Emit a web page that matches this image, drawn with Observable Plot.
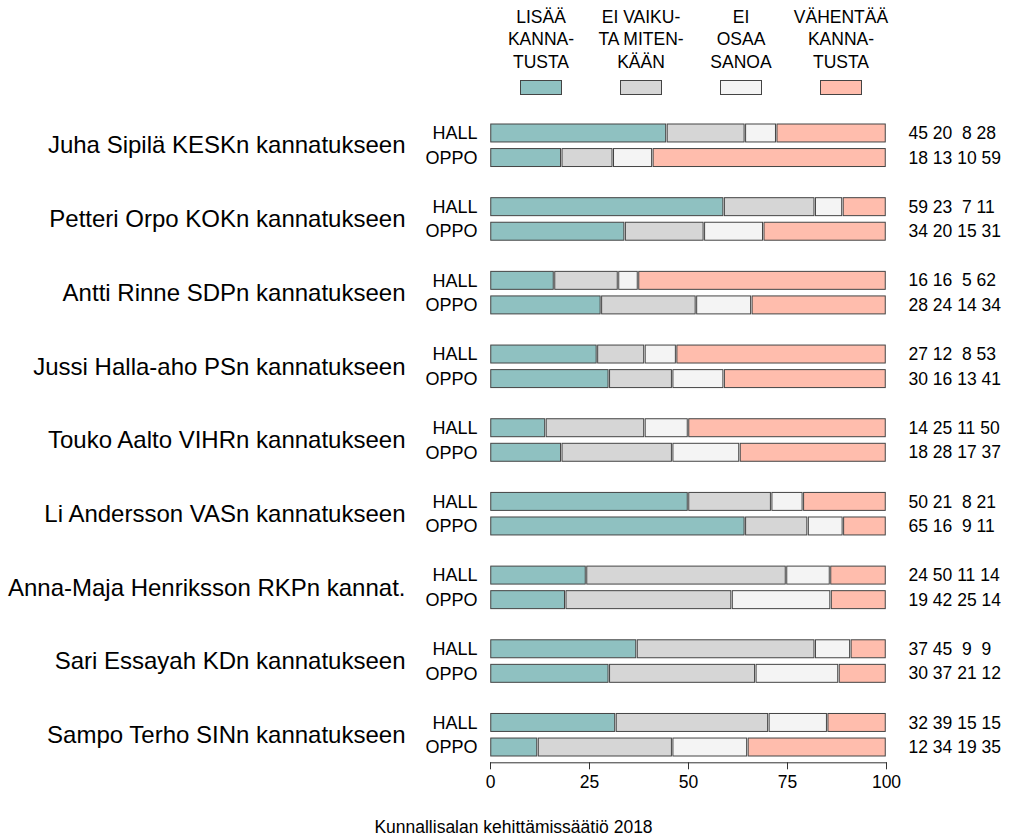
<!DOCTYPE html>
<html>
<head>
<meta charset="utf-8">
<script src="https://cdn.jsdelivr.net/npm/d3@7"></script>
<script src="https://cdn.jsdelivr.net/npm/@observablehq/plot@0.6"></script>
<style>
  html, body { margin: 0; padding: 0; overflow: hidden; background: #fff; font-family: "Liberation Sans", Arial, sans-serif; }
  #wrap { width: 1027px; height: 838px; position: relative; }
  #legend { position: relative; height: 104px; }
  .lg-text { position: absolute; width: 140px; text-align: center; font-size: 17.5px; line-height: 22.7px; top: 5.5px; color: #000; }
  .lg-swatch { position: absolute; width: 40px; height: 13px; top: 80px; border: 1px solid #444; }
  #chart { height: 693px; }
  #chart svg { display: block; max-width: none !important; }
  #caption { height: 41px; padding-top: 19px; box-sizing: border-box; text-align: center; font-size: 17.5px; line-height: 22px; color: #000; }
  svg text { white-space: pre; }
</style>
</head>
<body>
<div id="wrap">
  <div id="legend"></div>
  <div id="chart"></div>
  <div id="caption"></div>
</div>
<script>
const leaders = [
  "Juha Sipilä KESKn kannatukseen",
  "Petteri Orpo KOKn kannatukseen",
  "Antti Rinne SDPn kannatukseen",
  "Jussi Halla-aho PSn kannatukseen",
  "Touko Aalto VIHRn kannatukseen",
  "Li Andersson VASn kannatukseen",
  "Anna-Maja Henriksson RKPn kannat.",
  "Sari Essayah KDn kannatukseen",
  "Sampo Terho SINn kannatukseen"
];
const groups = ["HALL", "OPPO"];
const categories = ["LISÄÄ KANNATUSTA", "EI VAIKUTA MITENKÄÄN", "EI OSAA SANOA", "VÄHENTÄÄ KANNATUSTA"];
const legendLines = [
  ["LISÄÄ", "KANNA-", "TUSTA"],
  ["EI VAIKU-", "TA MITEN-", "KÄÄN"],
  ["EI", "OSAA", "SANOA"],
  ["VÄHENTÄÄ", "KANNA-", "TUSTA"]
];
const colors = ["#8fc1c1", "#d6d6d6", "#f4f4f4", "#ffbdad"];
const hallValues = [
  [45, 20, 8, 28],
  [59, 23, 7, 11],
  [16, 16, 5, 62],
  [27, 12, 8, 53],
  [14, 25, 11, 50],
  [50, 21, 8, 21],
  [24, 50, 11, 14],
  [37, 45, 9, 9],
  [32, 39, 15, 15]
];
const oppoValues = [
  [18, 13, 10, 59],
  [34, 20, 15, 31],
  [28, 24, 14, 34],
  [30, 16, 13, 41],
  [18, 28, 17, 37],
  [65, 16, 9, 11],
  [19, 42, 25, 14],
  [30, 37, 21, 12],
  [12, 34, 19, 35]
];
const xTicks = [0, 25, 50, 75, 100];
const caption = "Kunnallisalan kehittämissäätiö 2018";

// build tables
const seriesByGroup = {HALL: hallValues, OPPO: oppoValues};
const segments = [];
const rows = [];
leaders.forEach((name, i) => {
  groups.forEach(g => {
    const vals = seriesByGroup[g][i];
    const key = `${i}|${g}`;
    rows.push({key, group: g, label: vals.map(v => String(v).padStart(2, "\u00A0")).join(" ")});
    vals.forEach((v, j) => segments.push({key, cat: categories[j], value: v}));
  });
});
const yDomain = [];
leaders.forEach((_, i) => {
  yDomain.push(`${i}|HALL`, `${i}|OPPO`);
  if (i < leaders.length - 1) yDomain.push(`${i}|gap`);
});
const nameRows = leaders.map((name, i) => ({key: `${i}|HALL`, name}));

const H = 693, mTop = 16.7, mBottom = 37.7;
const step = (H - mTop - mBottom) / yDomain.length;

const font = '"Liberation Sans", Arial, sans-serif';
const plot = Plot.plot({
  width: 1027,
  height: H,
  marginLeft: 490,
  marginRight: 141,
  marginTop: mTop,
  marginBottom: mBottom,
  style: {fontFamily: font, fontSize: "17.5px", color: "#000", background: "#fff"},
  x: {domain: [0, 1], label: null},
  y: {domain: yDomain, padding: 0, round: false, label: null},
  color: {domain: categories, range: colors},
  marks: [
    Plot.barX(segments, Plot.stackX({
      x: "value", y: "key", fill: "cat", offset: "normalize",
      stroke: "#444", strokeWidth: 1,
      insetTop: 3.3, insetBottom: 3.3, insetLeft: 0.75, insetRight: 0.75
    })),
    Plot.axisY({
      tickSize: 0, tickPadding: 13, fontSize: 18, label: null,
      tickFormat: d => d.endsWith("gap") ? "" : d.split("|")[1]
    }),
    Plot.axisX({
      ticks: xTicks.map(d => d / 100), tickFormat: d => String(Math.round(d * 100)),
      tickSize: 7, tickPadding: 6, dy: 3, stroke: "#333", fontSize: 17.5, label: null
    }),
    Plot.frame({anchor: "bottom", stroke: "#333", dy: 3}),
    Plot.text(nameRows, {
      y: "key", text: "name", frameAnchor: "left", textAnchor: "end",
      dx: -85, dy: step / 2, fontSize: 24, fill: "#000"
    }),
    Plot.text(rows, {
      y: "key", text: "label", frameAnchor: "right", textAnchor: "start",
      dx: 22, fontSize: 17.5, fill: "#000"
    })
  ]
});
document.getElementById("chart").appendChild(plot);

// legend (HTML above the SVG)
const legend = document.getElementById("legend");
const legendCenters = [541, 641, 741, 841];
categories.forEach((c, j) => {
  const t = document.createElement("div");
  t.className = "lg-text";
  t.style.left = (legendCenters[j] - 70) + "px";
  t.innerHTML = legendLines[j].join("<br>");
  legend.appendChild(t);
  const s = document.createElement("div");
  s.className = "lg-swatch";
  s.style.left = (legendCenters[j] - 21) + "px";
  s.style.background = colors[j];
  legend.appendChild(s);
});
document.getElementById("caption").textContent = caption;
</script>
</body>
</html>
